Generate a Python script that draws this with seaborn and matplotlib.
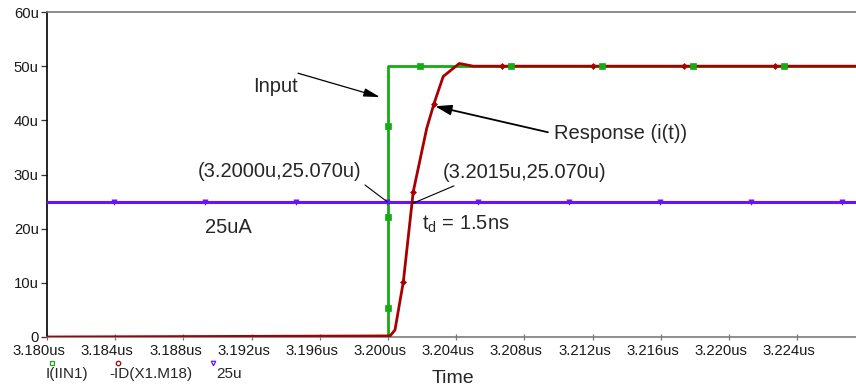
import numpy as np
import pandas as pd
import matplotlib as mpl
mpl.use("Agg")
import matplotlib.pyplot as plt
import matplotlib.transforms as mtransforms
from matplotlib.lines import Line2D
import seaborn as sns

### DATA ###
# input step I(IIN1)
t_input = [3.180, 3.2000, 3.2000, 3.2275]
i_input = [0.0, 0.0, 50.0, 50.0]
t_input_mk = [3.2000, 3.2000, 3.2000, 3.20188, 3.20723, 3.21257, 3.21791, 3.22324]
i_input_mk = [5.4, 22.2, 39.0, 50.0, 50.0, 50.0, 50.0, 50.0]

# response -ID(X1.M18)
t_resp = [3.180, 3.20012, 3.20041, 3.20090, 3.20148, 3.20227, 3.20270, 3.20324, 3.20418, 3.20500, 3.2275]
i_resp = [0.0, 0.2, 1.3, 10.2, 26.8, 38.5, 43.1, 48.1, 50.5, 50.0, 50.0]
t_resp_mk = [3.20090, 3.20148, 3.20270, 3.20670, 3.21204, 3.21738, 3.22272]
i_resp_mk = [10.2, 26.8, 43.1, 50.0, 50.0, 50.0, 50.0]

# 25u reference
t_ref = [3.180, 3.2275]
i_ref = [25.0, 25.0]
t_ref_mk = [3.18393, 3.18927, 3.19460, 3.19994, 3.20528, 3.21062, 3.21595, 3.22129, 3.22663]
i_ref_mk = [25.0] * 9

x_ticks = [3.180 + 0.004 * k for k in range(12)]
x_labels = [f"{v:.3f}us" for v in x_ticks]
y_ticks = [0, 10, 20, 30, 40, 50, 60]
y_labels = ["0"] + [f"{v}u" for v in y_ticks[1:]]

GREEN = "#13ad13"
RED = "#a80000"
BLUE = "#6a12ff"

### STYLE ###
sns.set_theme(style="white")
plt.rcParams["font.family"] = ["Liberation Sans", "DejaVu Sans"]
plt.rcParams["mathtext.fontset"] = "custom"
plt.rcParams["mathtext.rm"] = "Liberation Sans"
plt.rcParams["mathtext.it"] = "Liberation Sans"

W, H = 856, 386
fig = plt.figure(figsize=(W / 100, H / 100), dpi=100)
ax = fig.add_axes([47 / W, 49 / H, 809 / W, 325 / H])

### LINES ###
sns.lineplot(x=t_input, y=i_input, estimator=None, sort=False, color=GREEN, lw=2.0, ax=ax, zorder=2)
sns.lineplot(x=t_ref, y=i_ref, estimator=None, sort=False, color=BLUE, lw=2.2, ax=ax, zorder=3)
sns.lineplot(x=t_resp, y=i_resp, estimator=None, sort=False, color=RED, lw=2.0, ax=ax, zorder=4)

# data markers
sns.scatterplot(x=t_ref_mk, y=i_ref_mk, marker="v", s=14, color=BLUE, edgecolor=BLUE, lw=0.5, ax=ax, zorder=5)
sns.scatterplot(x=t_resp_mk, y=i_resp_mk, marker="D", s=9, color=RED, edgecolor=RED, lw=0.5, ax=ax, zorder=5)
sns.scatterplot(x=t_input_mk, y=i_input_mk, marker="s", s=16, color=GREEN, edgecolor=GREEN, lw=0.5, ax=ax, zorder=6)

### AXES ###
ax.set_xlim(3.180, 3.22745)
ax.set_ylim(0, 60)
ax.set_xticks(x_ticks)
ax.set_xticklabels(x_labels, fontsize=10.7, color="#1a1a1a")
ax.set_yticks(y_ticks)
ax.set_yticklabels(y_labels, fontsize=10.7, color="#1a1a1a")
ax.set_xlabel("")
ax.set_ylabel("")
ax.tick_params(axis="x", direction="inout", length=4, width=0.9, color="#777777", pad=3)
ax.tick_params(axis="y", direction="out", length=4, width=0.9, color="#333333", pad=2)
ax.tick_params(bottom=True, left=True)
for lab in ax.get_xticklabels():
    lab.set_transform(lab.get_transform() + mtransforms.ScaledTranslation(-8 / 100, 0, fig.dpi_scale_trans))
# zero label sits a touch higher so it clears the first time label
ax.get_yticklabels()[0].set_transform(
    ax.get_yticklabels()[0].get_transform() + mtransforms.ScaledTranslation(0, 1 / 100, fig.dpi_scale_trans))

ax.spines["left"].set_color("black")
ax.spines["left"].set_linewidth(1.2)
ax.spines["top"].set_color("#7a7a7a")
ax.spines["top"].set_linewidth(1.2)
ax.spines["bottom"].set_color("#7a7a7a")
ax.spines["bottom"].set_linewidth(1.2)
ax.spines["right"].set_visible(False)
ax.grid(False)

### ANNOTATIONS ###
fs = 14.5
ax.text(3.19208, 45.2, "Input", fontsize=fs, va="baseline", ha="left")
ax.annotate("", xy=(3.19953, 44.3), xytext=(3.19472, 48.7),
            arrowprops=dict(arrowstyle="-|>,head_length=0.7,head_width=0.18", color="black", lw=0.9,
                            shrinkA=0, shrinkB=0, mutation_scale=14))
ax.text(3.20974, 36.5, "Response (i(t))", fontsize=fs, va="baseline", ha="left")
ax.annotate("", xy=(3.20276, 42.6), xytext=(3.20938, 37.8),
            arrowprops=dict(arrowstyle="-|>,head_length=0.7,head_width=0.22", color="black", lw=1.3,
                            shrinkA=0, shrinkB=0, mutation_scale=14))

ax.text(3.18886, 29.6, "(3.2000u,25.070u)", fontsize=fs, va="baseline", ha="left")
ax.plot([3.19865, 3.19994], [28.06, 25.0], color="black", lw=0.8, zorder=7)
ax.text(3.20323, 29.4, "(3.2015u,25.070u)", fontsize=fs, va="baseline", ha="left")
ax.plot([3.20387, 3.20147], [27.9, 24.7], color="black", lw=0.8, zorder=7)

ax.text(3.18927, 19.25, "25uA", fontsize=fs, va="baseline", ha="left")
ax.text(3.20199, 19.75, r"t$_{\mathrm{d}}$ = 1.5ns", fontsize=fs, va="baseline", ha="left")

### TRACE LABELS ###
fig.text(453 / W, 3 / H, "Time", fontsize=14, ha="center", va="baseline")
fig.text(46 / W, 8 / H, "I(IIN1)", fontsize=11, ha="left", va="baseline")
fig.text(109 / W, 8 / H, "-ID(X1.M18)", fontsize=11, ha="left", va="baseline")
fig.text(216 / W, 8 / H, "25u", fontsize=11, ha="left", va="baseline")
for px, mk, col in [(52, "s", GREEN), (118, "o", RED), (213, "v", BLUE)]:
    fig.add_artist(Line2D([px / W], [(H - 363) / H], marker=mk, markersize=3.2, markerfacecolor="white",
                          markeredgecolor=col, markeredgewidth=0.9, transform=fig.transFigure))

fig.savefig("out.png", dpi=100)
